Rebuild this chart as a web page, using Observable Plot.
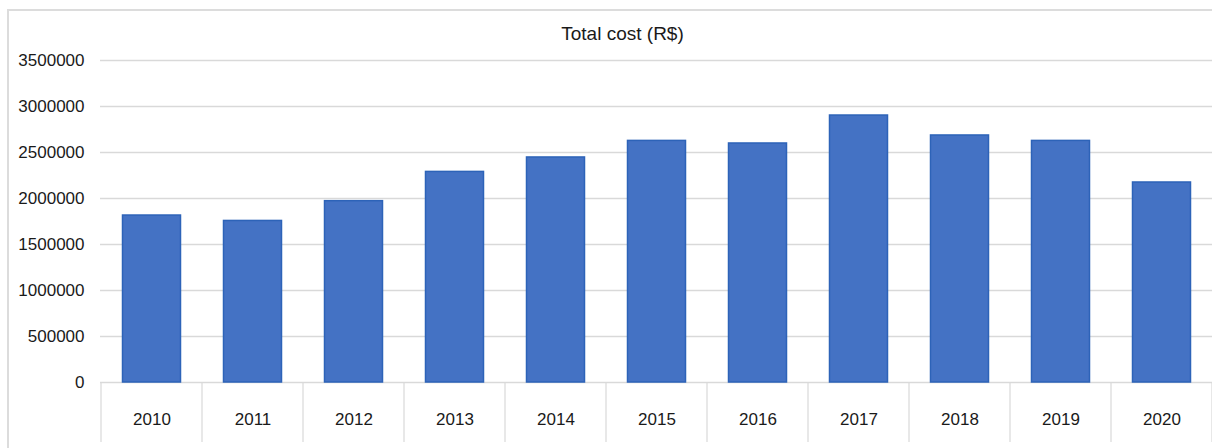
<!DOCTYPE html>
<html>
<head>
<meta charset="utf-8">
<script src="https://cdn.jsdelivr.net/npm/d3@7"></script>
<script src="https://cdn.jsdelivr.net/npm/@observablehq/plot@0.6"></script>
<style>
  html, body { margin: 0; padding: 0; background: #fff; }
  #wrap { position: relative; width: 1212px; height: 448px; overflow: hidden; }
  #border { position: absolute; left: 7px; top: 9px; width: 1300px; height: 600px; border: 2px solid #dcdcdc; pointer-events: none; }
  svg { font-family: "Liberation Sans", Arial, sans-serif; }
</style>
</head>
<body>
<div id="wrap"><div id="border"></div></div>
<script>
const title = "Total cost (R$)";
const years = ["2010","2011","2012","2013","2014","2015","2016","2017","2018","2019","2020"];
const totalCost = [1815000, 1756000, 1971000, 2289000, 2446000, 2626000, 2598000, 2902000, 2685000, 2626000, 2174000];
const yTicks = [0, 500000, 1000000, 1500000, 2000000, 2500000, 3000000, 3500000];

const data = years.map((y, i) => ({year: y, cost: totalCost[i]}));

function separators(index, scales, values, dimensions) {
  const x = scales.x, y = scales.y;
  const bw = x.bandwidth ? x.bandwidth() : 0;
  const y0 = y(0);
  const y1 = dimensions.height - 6;
  const g = d3.create("svg:g").attr("stroke", "#d9d9d9").attr("stroke-width", 1.2);
  const edges = years.map(d => x(d)).concat([x(years[years.length - 1]) + bw]);
  for (const e of edges) {
    g.append("line").attr("x1", e).attr("x2", e).attr("y1", y0).attr("y2", y1);
  }
  return g.node();
}

const chart = Plot.plot({
  width: 1212,
  height: 448,
  marginLeft: 100,
  marginRight: 0,
  marginTop: 60,
  marginBottom: 66,
  style: {fontFamily: "'Liberation Sans', Arial, sans-serif", color: "#1a1a1a", background: "transparent"},
  x: {domain: years, padding: 0, label: null},
  y: {domain: [0, 3500000], label: null},
  marks: [
    Plot.gridY(yTicks, {stroke: "#d9d9d9", strokeOpacity: 1, strokeWidth: 1.3}),
    separators,
    Plot.barY(data, {x: "year", y: "cost", fill: "#4472C4", stroke: "#2d63b8", strokeWidth: 1.5, insetLeft: 21.5, insetRight: 21.5}),
    Plot.axisY(yTicks, {tickSize: 0, tickPadding: 16, tickFormat: d => String(d), fontSize: 17, letterSpacing: "-0.3px", label: null}),
    Plot.axisX({tickSize: 0, tickPadding: 30, fontSize: 17, label: null}),
    Plot.text([title], {text: d => d, frameAnchor: "top", lineAnchor: "bottom", dx: -34, dy: -21, fontSize: 19, fill: "#1a1a1a"})
  ]
});

document.getElementById("wrap").prepend(chart);
</script>
</body>
</html>
